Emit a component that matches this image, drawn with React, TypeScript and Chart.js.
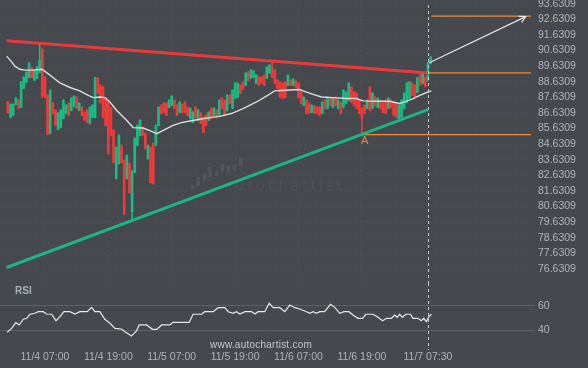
import { useEffect, useRef } from "react";
import { Chart, registerables } from "chart.js";

Chart.register(...registerables);

// ---------------- data ----------------
// 30-minute candles; index 0 = 11/4 07:00, first candle index = -14
const FIRST_INDEX = -14;

const candleOpen = [
  87.33, 86.35, 86.48, 87.18, 87.44, 86.99, 88.21, 88.60, 88.92, 89.50,
  88.73, 88.86, 89.24, 90.66, 88.92, 87.76, 85.32, 87.25, 86.80, 85.58,
  85.71, 86.28, 86.61, 87.25, 86.80, 87.06, 87.63, 86.80, 86.99, 86.67,
  86.80, 85.96, 86.35, 86.35, 88.86, 88.41, 88.28, 87.57, 87.31, 86.93,
  85.51, 82.43, 83.39, 84.55, 83.58, 82.43, 83.39, 80.30, 82.81, 84.55,
  85.19, 85.71, 85.32, 83.71, 84.42, 84.68, 84.55, 85.83, 87.12, 87.25,
  87.25, 86.99, 87.12, 87.44, 87.12, 86.67, 87.18, 87.31, 86.99, 86.28,
  86.03, 86.99, 86.16, 86.61, 86.35, 86.48, 86.16, 86.93, 86.48, 86.80,
  86.48, 87.57, 87.44, 86.80, 87.76, 86.93, 87.57, 87.63, 88.41, 88.60,
  88.41, 89.24, 88.86, 88.92, 88.53, 88.92, 88.92, 89.05, 88.86, 89.18,
  89.50, 89.37, 88.73, 88.60, 88.53, 88.60, 88.41, 88.73, 88.41, 88.66,
  88.53, 87.96, 87.12, 87.44, 87.25, 86.67, 87.06, 86.99, 86.99, 86.61,
  87.44, 86.93, 87.57, 86.99, 87.63, 86.93, 87.31, 86.99, 87.25, 87.44,
  88.28, 87.96, 87.89, 87.44, 86.93, 87.12, 86.93, 88.28, 86.93, 87.63,
  86.99, 87.44, 87.25, 87.44, 86.93, 87.44, 87.31, 87.25, 86.28, 86.35,
  86.93, 87.31, 87.57, 88.53, 88.41, 87.96, 89.05, 88.53, 88.92, 88.73,
  89.82,
];
const candleClose = [
  86.65, 87.18, 87.18, 87.57, 86.93, 88.60, 88.92, 89.24, 89.82, 88.92,
  89.31, 89.56, 90.01, 87.76, 87.63, 85.26, 88.08, 86.61, 85.83, 86.61,
  86.80, 87.44, 87.12, 86.48, 87.57, 87.70, 86.93, 87.25, 86.48, 86.16,
  86.03, 86.99, 87.12, 88.86, 87.89, 87.31, 86.35, 85.83, 84.03, 85.19,
  83.45, 84.42, 85.19, 83.45, 80.17, 83.90, 81.52, 82.90, 85.00, 85.83,
  86.16, 85.19, 84.35, 84.55, 82.17, 82.10, 85.83, 86.99, 86.61, 86.67,
  86.48, 87.44, 87.70, 86.93, 86.48, 87.31, 86.67, 86.67, 86.48, 86.93,
  86.67, 86.35, 86.80, 85.96, 85.38, 85.83, 86.67, 86.28, 86.93, 86.35,
  87.44, 86.93, 86.48, 87.76, 87.25, 88.08, 88.53, 88.53, 87.89, 88.15,
  89.18, 88.73, 89.37, 89.31, 89.05, 88.41, 88.53, 88.41, 89.56, 89.69,
  88.92, 88.53, 88.21, 87.63, 87.57, 87.63, 89.05, 88.41, 88.79, 88.28,
  87.63, 87.25, 87.63, 86.61, 86.61, 87.12, 86.61, 86.61, 86.48, 87.31,
  86.93, 87.63, 87.12, 87.57, 87.12, 87.44, 86.61, 88.08, 87.96, 88.53,
  87.31, 87.12, 86.93, 86.61, 86.28, 86.61, 87.44, 86.80, 87.89, 87.12,
  87.57, 86.93, 86.67, 86.61, 87.57, 86.99, 86.48, 86.35, 87.12, 87.44,
  87.89, 88.53, 88.60, 87.76, 87.63, 88.86, 88.41, 89.18, 88.34, 89.82,
  90.21,
];
const candleHigh = [
  87.37, 87.22, 87.22, 87.61, 87.48, 88.64, 88.96, 89.28, 89.86, 89.54,
  89.35, 89.60, 91.11, 90.79, 88.96, 87.80, 88.12, 87.29, 86.84, 86.65,
  86.84, 87.48, 87.16, 87.29, 87.61, 87.74, 87.67, 87.29, 87.03, 86.71,
  86.84, 87.03, 87.16, 88.92, 88.90, 88.45, 88.32, 87.61, 87.35, 86.97,
  85.55, 84.46, 85.23, 84.59, 83.62, 83.94, 83.43, 82.94, 85.04, 85.87,
  86.20, 85.75, 85.36, 84.59, 84.46, 84.72, 85.87, 87.03, 87.16, 87.29,
  87.29, 87.48, 87.74, 87.48, 87.16, 87.35, 87.22, 87.35, 87.03, 86.97,
  86.71, 87.03, 86.84, 86.65, 86.39, 86.52, 86.71, 86.97, 86.97, 86.84,
  87.48, 87.61, 87.48, 87.80, 87.80, 88.12, 88.57, 88.57, 88.45, 88.64,
  89.22, 89.28, 89.41, 89.35, 89.09, 88.96, 88.96, 89.09, 89.60, 89.73,
  89.89, 89.41, 88.77, 88.64, 88.57, 88.64, 89.09, 88.77, 88.83, 88.70,
  88.57, 88.00, 87.67, 87.48, 87.29, 87.16, 87.10, 87.03, 87.03, 87.35,
  87.48, 87.67, 87.61, 87.61, 87.67, 87.48, 87.35, 88.12, 88.00, 88.57,
  88.32, 88.00, 87.93, 87.48, 86.97, 87.16, 87.48, 88.32, 87.93, 87.67,
  87.61, 87.48, 87.29, 87.48, 87.61, 87.48, 87.35, 87.29, 87.16, 87.48,
  87.93, 88.57, 88.64, 88.57, 88.45, 88.90, 89.09, 89.22, 88.96, 89.86,
  90.25,
];
const candleLow = [
  86.61, 86.31, 86.44, 87.14, 86.89, 86.95, 88.17, 88.56, 88.88, 88.88,
  88.69, 88.82, 89.20, 87.63, 87.59, 85.22, 85.28, 86.57, 85.79, 85.54,
  85.67, 86.24, 86.57, 86.44, 86.76, 87.02, 86.89, 86.76, 86.44, 86.12,
  85.99, 85.92, 86.31, 86.31, 87.85, 87.27, 86.31, 85.79, 83.99, 85.15,
  83.41, 82.39, 83.35, 83.41, 80.13, 82.39, 81.48, 79.72, 82.77, 84.51,
  85.15, 85.15, 84.31, 83.67, 82.13, 82.06, 84.51, 85.79, 86.57, 86.63,
  86.44, 86.95, 87.08, 86.89, 86.44, 86.63, 86.63, 86.63, 86.44, 86.24,
  85.99, 86.31, 86.12, 85.92, 85.34, 85.79, 86.12, 86.24, 86.44, 86.31,
  86.44, 86.89, 86.44, 86.76, 87.21, 86.89, 87.53, 87.59, 87.85, 88.11,
  88.37, 88.69, 88.82, 88.88, 88.49, 88.37, 88.49, 88.37, 88.82, 89.14,
  88.88, 88.49, 88.17, 87.59, 87.53, 87.59, 88.37, 88.37, 88.37, 88.24,
  87.59, 87.21, 87.08, 86.57, 86.57, 86.63, 86.57, 86.57, 86.44, 86.57,
  86.89, 86.89, 87.08, 86.95, 87.08, 86.89, 86.57, 86.95, 87.21, 87.40,
  87.27, 87.08, 86.89, 86.57, 85.30, 86.57, 86.89, 86.76, 86.89, 87.08,
  86.95, 86.89, 86.63, 86.57, 86.89, 86.95, 86.44, 86.31, 86.24, 86.31,
  86.89, 87.27, 87.53, 87.72, 87.59, 87.92, 88.37, 88.49, 88.30, 88.69,
  89.78,
];

// moving average (read points)
const maIdx = [
  -14.5, -12.6, -11.4, -9.5, -7.6, -4.4, -1.2, -0.6, 1.9, 5.7, 9.5, 13.2, 16.4,
  18.3, 20.8, 22.7, 24.6, 27.1, 30.9, 33.4, 37.2, 40.4, 42.3, 44.8, 48.5, 51.7,
  54.9, 58.6, 62.4, 66.2, 70.6, 75.0, 80.1, 85.1, 87.0, 91.4, 96.5, 97.7, 101.5,
  104.7, 109.1, 114.1, 117.9, 120.4, 126.7, 130.5, 134.3, 136.9, 139.4, 141.9,
  145.0, 146.3,
];
const maVal = [
  90.27, 89.9, 89.63, 89.43, 89.37, 89.37, 89.43, 89.37, 89.05, 88.55, 88.26,
  88.04, 87.76, 87.61, 87.65, 87.61, 87.33, 86.8, 86.16, 85.69, 85.66, 85.45,
  85.3, 85.51, 85.83, 86.01, 86.11, 86.22, 86.33, 86.41, 86.59, 86.91, 87.33,
  87.83, 88.04, 88.08, 88.13, 88.04, 87.82, 87.65, 87.61, 87.55, 87.55, 87.4,
  87.38, 87.38, 87.23, 87.38, 87.55, 87.76, 87.97, 88.04,
];

// RSI (read points)
const rsiIdx = [
  -14.3, -12.6, -11.0, -9.7, -8.2, -6.9, -5.7, -3.8, -2.5, -0.6, 0.6, 2.5, 4.2,
  5.7, 7.2, 9.5, 11.4, 13.2, 16.0, 17.7, 18.9, 20.8, 22.7, 24.6, 26.5, 29.0,
  30.3, 32.8, 34.7, 35.7, 38.5, 40.7, 42.3, 44.2, 47.3, 48.5, 54.6, 56.1, 59.3,
  60.5, 63.7, 65.6, 68.1, 69.4, 71.2, 72.5, 73.8, 75.7, 78.2, 79.5, 80.7, 83.2,
  84.9, 86.4, 88.9, 90.8, 92.7, 94.6, 96.5, 99.0, 100.3, 101.5, 102.8, 104.0,
  105.9, 108.1, 109.7, 111.6, 113.2, 115.1, 116.6, 118.5, 120.2, 121.5, 124.2,
  126.1, 127.8, 129.3, 131.2, 132.4, 133.3, 134.3, 135.3, 136.6, 138.4, 139.3,
  141.2, 142.5, 143.4, 144.4, 145.4, 146.3,
];
const rsiVal = [
  38.4, 41.6, 46.3, 44.4, 49.1, 49.9, 53.2, 54.0, 55.3, 55.3, 53.4, 53.2, 47.9,
  51.2, 55.3, 55.3, 53.4, 55.3, 55.3, 58.9, 55.3, 55.3, 49.1, 45.8, 41.6, 41.1,
  38.9, 35.3, 39.7, 44.4, 44.4, 40.8, 40.8, 44.4, 44.4, 46.6, 46.6, 53.2, 53.2,
  55.3, 55.3, 58.6, 58.6, 55.3, 54.0, 55.3, 53.4, 55.3, 55.3, 53.4, 55.3, 55.3,
  62.2, 58.6, 58.6, 55.3, 60.8, 58.6, 57.5, 55.3, 54.0, 55.3, 54.0, 55.3,
  55.3, 61.4, 58.9, 54.0, 55.3, 55.3, 52.6, 49.9, 49.9, 53.2, 53.2,
  50.7, 47.9, 49.9, 49.9, 52.6, 50.7, 53.2, 50.7, 53.2, 53.2, 49.9,
  49.9, 47.9, 49.9, 47.1, 51.2, 53.2,
];

// axis ticks
const priceTicks = [
  76.6309, 77.6309, 78.6309, 79.6309, 80.6309, 81.6309, 82.6309, 83.6309,
  84.6309, 85.6309, 86.6309, 87.6309, 88.6309, 89.6309, 90.6309, 91.6309,
  92.6309, 93.6309,
];
const priceTickLabels = [
  "76.6309", "77.6309", "78.6309", "79.6309", "80.6309", "81.6309", "82.6309",
  "83.6309", "84.6309", "85.6309", "86.6309", "87.6309", "88.6309", "89.6309",
  "90.6309", "91.6309", "92.6309", "93.6309",
];
const timeTickIdx = [0, 24, 48, 72, 96, 120, 145];
const timeTickLabels = [
  "11/4 07:00", "11/4 19:00", "11/5 07:00", "11/5 19:00", "11/6 07:00",
  "11/6 19:00", "11/7 07:30",
];
const rsiTicks = [40, 60];
const rsiTickLabels = ["40", "60"];

// pattern: triangle lines, levels, projection
const resistX = [-14.5, 145];
const resistY = [91.26, 89.19];
const supportX = [-14.5, 145];
const supportY = [76.72, 86.84];
const levelStart = [146.3, 145, 120];
const levelPrice = [92.84, 89.2, 85.24];
const projX = [145.5, 182];
const projY = [89.85, 92.8];
const pointLabel = "A";
const pointIdx = 121;
const pointPrice = 84.84;
const nowIdx = 145;

// ranges
const X_MIN = -17;
const X_MAX = 184;
const PRICE_MIN = 75.727;
const PRICE_MAX = 93.868;
const RSI_MIN = 30.4;
const RSI_MAX = 78.9;

// ---------------- styles ----------------
const BG = "#45484d";
const UP = "rgb(27,186,132)";
const DOWN = "rgb(240,58,58)";
const TICK_COLOR = "#b0b4ba";
const FONT = "'Liberation Sans', Arial, sans-serif";
const AXIS_W = 57;

function zeroPad(s: any) {
  s.paddingLeft = 0;
  s.paddingRight = 0;
  s.paddingTop = 0;
  s.paddingBottom = 0;
}

const priceOverlay = {
  id: "priceOverlay",
  beforeDatasetsDraw(chart: any) {
    const { ctx, chartArea } = chart;
    const ox = chartArea.left;
    const oy = chartArea.top;
    ctx.save();
    ctx.fillStyle = "rgba(255,255,255,0.07)";
    const bars = [
      [190.5, 185, 3.3, 5],
      [196.5, 177, 3.3, 9],
      [202.7, 173, 3.3, 7.5],
      [208.3, 167, 3.3, 10],
      [215, 170.5, 3.3, 5],
      [220.7, 164, 3.3, 8],
      [226.7, 166, 3.3, 7],
      [232.7, 165, 3.3, 5.5],
      [239, 158, 3.6, 8],
    ];
    for (const b of bars) ctx.fillRect(ox + b[0], oy + b[1], b[2], b[3]);
    ctx.fillStyle = "rgba(255,255,255,0.065)";
    ctx.font = "300 15px Lato, 'Liberation Sans', sans-serif";
    ctx.textAlign = "left";
    ctx.textBaseline = "alphabetic";
    const word = "autochartist";
    const w = ctx.measureText(word).width;
    const ls = Math.max(0, (120 - w) / word.length);
    (ctx as any).letterSpacing = ls + "px";
    ctx.fillText(word, ox + 225, oy + 190);
    (ctx as any).letterSpacing = "0px";
    ctx.restore();
  },
  afterDatasetsDraw(chart: any) {
    const { ctx, chartArea, scales } = chart;
    const xs = scales.x;
    const ys = scales.y;
    ctx.save();
    // arrow head of projection
    const p0x = xs.getPixelForValue(projX[0]);
    const p0y = ys.getPixelForValue(projY[0]);
    const p1x = xs.getPixelForValue(projX[1]);
    const p1y = ys.getPixelForValue(projY[1]);
    const ang = Math.atan2(p1y - p0y, p1x - p0x);
    const L = 7;
    ctx.strokeStyle = "#e6e6e6";
    ctx.lineWidth = 1.2;
    ctx.beginPath();
    ctx.moveTo(p1x - L * Math.cos(ang - 0.5), p1y - L * Math.sin(ang - 0.5));
    ctx.lineTo(p1x, p1y);
    ctx.lineTo(p1x - L * Math.cos(ang + 0.5), p1y - L * Math.sin(ang + 0.5));
    ctx.stroke();
    // point label
    ctx.fillStyle = "#e8844a";
    ctx.font = "11px " + FONT;
    ctx.textAlign = "center";
    ctx.textBaseline = "middle";
    ctx.fillText(pointLabel, xs.getPixelForValue(pointIdx), ys.getPixelForValue(pointPrice));
    // now line
    const nx = Math.round(xs.getPixelForValue(nowIdx)) + 0.5;
    ctx.strokeStyle = "#c8c8c8";
    ctx.lineWidth = 1;
    ctx.setLineDash([3, 3]);
    ctx.beginPath();
    ctx.moveTo(nx, chartArea.top + 5);
    ctx.lineTo(nx, chartArea.bottom);
    ctx.stroke();
    ctx.restore();
  },
};

const rsiOverlay = {
  id: "rsiOverlay",
  afterDatasetsDraw(chart: any) {
    const { ctx, chartArea, scales } = chart;
    const xs = scales.x;
    ctx.save();
    ctx.fillStyle = "#aab0b6";
    ctx.font = "bold 10px " + FONT;
    ctx.textAlign = "left";
    ctx.textBaseline = "middle";
    ctx.fillText("RSI", chartArea.left + 15, chartArea.top + 8.7);
    const nx = Math.round(xs.getPixelForValue(nowIdx)) + 0.5;
    ctx.strokeStyle = "#c8c8c8";
    ctx.lineWidth = 1;
    ctx.setLineDash([3, 3]);
    ctx.beginPath();
    ctx.moveTo(nx, chartArea.top);
    ctx.lineTo(nx, chartArea.bottom + 8);
    ctx.stroke();
    ctx.setLineDash([]);
    ctx.fillStyle = "#c2c5c9";
    ctx.font = "10px " + FONT;
    ctx.textAlign = "center";
    const site = "www.autochartist.com";
    const w = ctx.measureText(site).width;
    (ctx as any).letterSpacing = Math.max(0, (102 - w) / site.length) + "px";
    ctx.fillText(site, chartArea.left + 261, chartArea.top + 62);
    (ctx as any).letterSpacing = "0px";
    ctx.restore();
  },
};

export default function App() {
  const priceRef = useRef<HTMLCanvasElement>(null);
  const rsiRef = useRef<HTMLCanvasElement>(null);

  useEffect(() => {
    const colors = candleOpen.map((o, k) => (candleClose[k] >= o ? UP : DOWN));
    const wickData = candleOpen.map((_, k) => ({
      x: FIRST_INDEX + k,
      y: [candleLow[k], candleHigh[k]],
    }));
    const bodyData = candleOpen.map((o, k) => ({
      x: FIRST_INDEX + k,
      y: [o, candleClose[k]],
    }));
    const line = (xs: number[], ys: number[]) => xs.map((x, k) => ({ x, y: ys[k] }));

    const levelSets = levelStart.map((s, k) => ({
      type: "line" as const,
      data: [
        { x: s, y: levelPrice[k] },
        { x: X_MAX, y: levelPrice[k] },
      ],
      borderColor: "#f28a3a",
      borderWidth: 1.3,
      pointRadius: 0,
      order: 1,
    }));

    const priceChart = new Chart(priceRef.current as HTMLCanvasElement, {
      type: "line",
      data: {
        datasets: [
          {
            type: "line",
            data: line(resistX, resistY),
            borderColor: "rgba(242,58,58,0.95)",
            borderWidth: 3,
            pointRadius: 0,
            order: 0,
          },
          {
            type: "line",
            data: line(supportX, supportY),
            borderColor: "rgb(28,180,130)",
            borderWidth: 3,
            pointRadius: 0,
            order: 0,
          },
          {
            type: "line",
            data: line(maIdx, maVal),
            borderColor: "#dcdcdc",
            borderWidth: 1.4,
            pointRadius: 0,
            order: 2,
          },
          ...levelSets,
          {
            type: "line",
            data: line(projX, projY),
            borderColor: "#e6e6e6",
            borderWidth: 1.2,
            pointRadius: 0,
            order: 1,
          },
          {
            type: "bar",
            data: wickData as any,
            backgroundColor: colors,
            borderWidth: 0,
            barThickness: 1,
            grouped: false,
            order: 4,
          } as any,
          {
            type: "bar",
            data: bodyData as any,
            backgroundColor: colors,
            borderWidth: 0,
            barThickness: 2,
            grouped: false,
            order: 3,
          } as any,
        ],
      },
      options: {
        animation: false,
        responsive: false,
        devicePixelRatio: 1,
        layout: { padding: 0 },
        plugins: { legend: { display: false }, tooltip: { enabled: false } },
        events: [],
        scales: {
          x: {
            type: "linear",
            min: X_MIN,
            max: X_MAX,
            offset: false,
            ticks: { display: false },
            grid: { color: "rgba(255,255,255,0.035)", drawTicks: false, offset: false },
            border: { display: false, dash: [2, 3] },
            afterBuildTicks: (s: any) => {
              s.ticks = timeTickIdx.map((v) => ({ value: v }));
            },
            afterFit: (s: any) => {
              s.height = 0;
              zeroPad(s);
            },
          },
          y: {
            type: "linear",
            position: "right",
            min: PRICE_MIN,
            max: PRICE_MAX,
            ticks: {
              color: TICK_COLOR,
              font: { family: FONT, size: 10.5 },
              padding: 7,
              callback: (_v: any, i: number) => priceTickLabels[i],
            },
            grid: { color: "rgba(255,255,255,0.035)", drawTicks: false },
            border: { display: false, dash: [2, 3] },
            afterBuildTicks: (s: any) => {
              s.ticks = priceTicks.map((v) => ({ value: v }));
            },
            afterFit: (s: any) => {
              s.width = AXIS_W;
              zeroPad(s);
            },
          },
        },
      } as any,
      plugins: [priceOverlay],
    });

    const rsiChart = new Chart(rsiRef.current as HTMLCanvasElement, {
      type: "line",
      data: {
        datasets: [
          {
            data: line(rsiIdx, rsiVal),
            borderColor: "#e8e8e8",
            borderWidth: 1.2,
            pointRadius: 0,
            tension: 0,
          },
        ],
      },
      options: {
        animation: false,
        responsive: false,
        devicePixelRatio: 1,
        layout: { padding: { top: 0, left: 0, right: 0, bottom: 4.7 } },
        plugins: { legend: { display: false }, tooltip: { enabled: false } },
        events: [],
        scales: {
          x: {
            type: "linear",
            min: X_MIN,
            max: X_MAX,
            offset: false,
            ticks: {
              color: TICK_COLOR,
              font: { family: FONT, size: 10.5 },
              padding: 8.7,
              autoSkip: false,
              maxRotation: 0,
              minRotation: 0,
              callback: (_v: any, i: number) => timeTickLabels[i],
            },
            grid: { display: false, drawTicks: false },
            border: { display: false },
            afterBuildTicks: (s: any) => {
              s.ticks = timeTickIdx.map((v) => ({ value: v }));
            },
            afterFit: (s: any) => {
              s.height = 21.3;
              zeroPad(s);
            },
          },
          y: {
            type: "linear",
            position: "right",
            min: RSI_MIN,
            max: RSI_MAX,
            ticks: {
              color: TICK_COLOR,
              font: { family: FONT, size: 10.5 },
              padding: 3,
              callback: (_v: any, i: number) => rsiTickLabels[i],
            },
            grid: { color: "#5d6166", drawTicks: true, tickLength: 4 },
            border: { display: false },
            afterBuildTicks: (s: any) => {
              s.ticks = rsiTicks.map((v) => ({ value: v }));
            },
            afterFit: (s: any) => {
              s.width = AXIS_W;
              zeroPad(s);
            },
          },
        },
      } as any,
      plugins: [rsiOverlay],
    });

    return () => {
      priceChart.destroy();
      rsiChart.destroy();
    };
  }, []);

  return (
    <div
      style={{
        position: "fixed",
        left: 0,
        top: 0,
        width: 588,
        height: 368,
        background: BG,
        overflow: "hidden",
      }}
    >
      <canvas
        ref={priceRef}
        width={588}
        height={283}
        style={{ position: "absolute", left: 0, top: 0, width: 588, height: 283 }}
      />
      <canvas
        ref={rsiRef}
        width={588}
        height={85}
        style={{ position: "absolute", left: 0, top: 283, width: 588, height: 85 }}
      />
    </div>
  );
}
